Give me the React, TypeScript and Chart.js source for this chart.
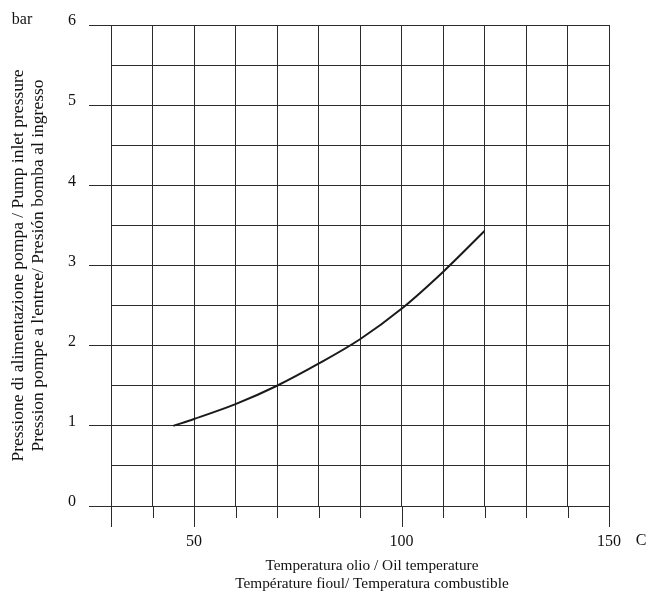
import React, { useEffect, useRef } from "react";
import { Chart, registerables } from "chart.js";

Chart.register(...registerables);

const temperatures = [45, 50, 60, 70, 80, 90, 100, 110, 120];
const pressures = [1.0, 1.085, 1.27, 1.5, 1.775, 2.08, 2.46, 2.92, 3.43];
const xLabelValues = [50, 100, 150];
const xMajorTicks = [30, 50, 100, 150];
const yTitle = [
  "Pressione di alimentazione pompa / Pump inlet pressure",
  "Pression pompe a l'entree/ Presión bomba al ingresso",
];
const xTitle = [
  "Temperatura olio / Oil temperature",
  "Température fioul/ Temperatura combustible",
];
const yUnit = "bar";
const xUnit = "C";

const FONT = "'Liberation Serif', 'DejaVu Serif', serif";
const INK = "#2b2b2b";

const extrasPlugin = {
  id: "extras",
  afterDraw(chart: any) {
    const { ctx, scales, chartArea } = chart;
    const xs = scales.x;
    const ys = scales.y;
    ctx.save();
    ctx.strokeStyle = INK;
    ctx.lineWidth = 1;
    const bottom = ys.getPixelForValue(0);
    for (let v = 30; v <= 150; v += 10) {
      const px = Math.round(xs.getPixelForValue(v)) + 0.5;
      const len = xMajorTicks.includes(v) ? 21 : 12;
      ctx.beginPath();
      ctx.moveTo(px, bottom);
      ctx.lineTo(px, bottom + len);
      ctx.stroke();
    }
    ctx.fillStyle = "#111";
    ctx.font = "16px " + FONT;
    ctx.textAlign = "center";
    ctx.textBaseline = "middle";
    ctx.fillText(yUnit, 22, ys.getPixelForValue(6) - 5);
    ctx.fillText(xUnit, xs.getPixelForValue(150) + 32, bottom + 35);
    // x-axis title (two lines), slightly right of the plot centre as in the original
    ctx.font = "15.3px " + FONT;
    const cx = (chartArea.left + chartArea.right) / 2 + 12;
    xTitle.forEach((line, i) => {
      ctx.fillText(line, cx, bottom + 60 + i * 18);
    });
    ctx.restore();
  },
};

export default function App() {
  const ref = useRef<HTMLCanvasElement>(null);
  useEffect(() => {
    if (!ref.current) return;
    const chart = new Chart(ref.current, {
      type: "line",
      data: {
        datasets: [
          {
            data: temperatures.map((t, i) => ({ x: t, y: pressures[i] })),
            borderColor: "#1a1a1a",
            borderWidth: 2,
            pointRadius: 0,
            cubicInterpolationMode: "monotone",
            fill: false,
          },
        ],
      },
      options: {
        animation: false,
        responsive: false,
        devicePixelRatio: 1,
        layout: { padding: { top: 25, right: 51, left: 0, bottom: 0 } },
        plugins: { legend: { display: false }, tooltip: { enabled: false } },
        scales: {
          x: {
            type: "linear",
            min: 30,
            max: 150,
            afterFit: (s: any) => {
              s.height = 89;
            },
            border: { display: true, color: INK },
            grid: { color: INK, lineWidth: 1, drawTicks: false },
            ticks: {
              stepSize: 10,
              autoSkip: false,
              maxRotation: 0,
              padding: 26,
              color: "#111",
              font: { family: FONT, size: 16 },
              callback: (v: any) => (xLabelValues.includes(Number(v)) ? String(v) : ""),
            },
          },
          y: {
            type: "linear",
            min: 0,
            max: 6,
            afterFit: (s: any) => {
              s.width = 111;
            },
            border: { display: true, color: INK },
            grid: {
              color: INK,
              lineWidth: 1,
              tickLength: 22,
              tickColor: (c: any) =>
                c.tick && Number.isInteger(c.tick.value) ? INK : "rgba(0,0,0,0)",
            },
            ticks: {
              stepSize: 0.5,
              autoSkip: false,
              padding: 13,
              labelOffset: -4,
              color: "#111",
              font: { family: FONT, size: 16 },
              callback: (v: any) => (Number.isInteger(Number(v)) ? String(v) : ""),
            },
            title: {
              display: true,
              text: yTitle,
              color: "#111",
              font: { family: FONT, size: 17.5, lineHeight: 1.12 },
              padding: { top: 9, bottom: 0 },
            },
          },
        },
      },
      plugins: [extrasPlugin],
    } as any);
    return () => chart.destroy();
  }, []);
  return (
    <div style={{ position: "absolute", left: 0, top: 0, width: 660, height: 595, background: "#fff" }}>
      <canvas ref={ref} width={660} height={595} style={{ display: "block" }} />
    </div>
  );
}
